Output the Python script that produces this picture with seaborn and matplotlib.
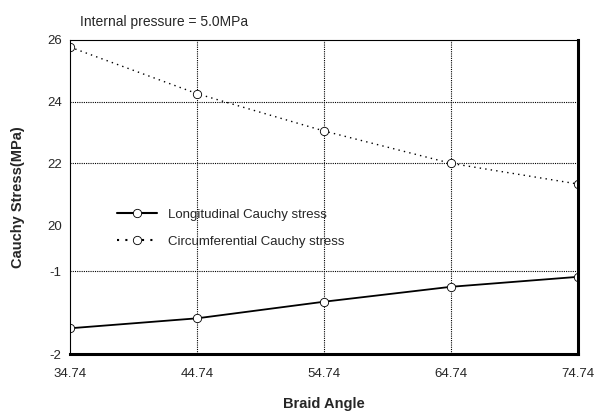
import numpy as np
import pandas as pd
import seaborn as sns
import matplotlib
matplotlib.use("Agg")
from matplotlib import pyplot as plt

# data
braid_angle = [34.74, 44.74, 54.74, 64.74, 74.74]
longitudinal = [-1.69, -1.57, -1.37, -1.19, -1.07]
circumferential = [25.77, 24.26, 23.05, 22.0, 21.33]

y_ticks = [26, 24, 22, 20, -1, -2]
y_labels = ["26", "24", "22", "20", "-1", "-2"]
x_ticks = [34.74, 44.74, 54.74, 64.74, 74.74]
x_labels = ["34.74", "44.74", "54.74", "64.74", "74.74"]

df = pd.DataFrame({
    "Braid Angle": braid_angle * 2,
    "stress": longitudinal + circumferential,
    "kind": ["Longitudinal Cauchy stress"] * 5 + ["Circumferential Cauchy stress"] * 5,
})

# broken y axis: upper part 20..26, lower part -2..-1
def fwd(y):
    y = np.asarray(y, dtype=float)
    return np.where(y >= 20, 129 + (y - 20) * 30.85,
                    np.where(y <= -1, (y + 2) * 83, 83 + (y + 1) * 46 / 21))

def inv(p):
    p = np.asarray(p, dtype=float)
    return np.where(p >= 129, 20 + (p - 129) / 30.85,
                    np.where(p <= 83, p / 83 - 2, -1 + (p - 83) * 21 / 46))

sns.set_theme(style="white")
plt.rcParams['font.family'] = ['Liberation Sans', 'DejaVu Sans']

fig = plt.figure(figsize=(6.01, 4.15), dpi=100)
ax = fig.add_axes([70 / 601, 61 / 415, 508 / 601, 314 / 415])
ax.set_yscale("function", functions=(fwd, inv))

sns.lineplot(data=df, x="Braid Angle", y="stress", hue="kind", style="kind",
             palette=["black", "black"],
             dashes={"Longitudinal Cauchy stress": "", "Circumferential Cauchy stress": (1, 3)},
             markers={"Longitudinal Cauchy stress": "o", "Circumferential Cauchy stress": "o"},
             markersize=6, markerfacecolor="white", markeredgecolor="black",
             markeredgewidth=0.6, ax=ax)
ax.lines[0].set_linewidth(1.3)
ax.lines[1].set_linewidth(1.0)

ax.set_xlim(34.74, 74.74)
ax.set_ylim(-2, 26)
ax.set_xticks(x_ticks)
ax.set_xticklabels(x_labels)
ax.set_yticks(y_ticks)
ax.set_yticklabels(y_labels)
ax.minorticks_off()
ax.tick_params(axis="both", labelsize=9.5, length=0)
ax.tick_params(axis="x", pad=10)
ax.tick_params(axis="y", pad=6)

# grid
for xv in x_ticks[1:-1]:
    ax.axvline(xv, color="black", lw=0.8, ls=(0, (1, 1)), zorder=0)
for yv in [24, 22, -1]:
    ax.axhline(yv, color="black", lw=0.8, ls=(0, (1, 1)), zorder=0)

for s in ["top", "left"]:
    ax.spines[s].set_linestyle((0, (1, 1)))
    ax.spines[s].set_linewidth(0.8)
    ax.spines[s].set_color("black")
for s in ["bottom", "right"]:
    ax.spines[s].set_linewidth(2.2)
    ax.spines[s].set_color("black")

ax.set_xlabel("Braid Angle", fontsize=10.5, fontweight="bold", labelpad=12)
ax.set_ylabel("Cauchy Stress(MPa)", fontsize=10.5, fontweight="bold", labelpad=16)
ax.set_title("Internal pressure = 5.0MPa", fontsize=10, loc="left", x=0.02, pad=10)

ax.legend(loc="upper left", bbox_to_anchor=(0.07, 0.50), frameon=False,
          fontsize=9.5, handlelength=3.0, labelspacing=1.1, title=None)

fig.savefig("out.png", dpi=100)
